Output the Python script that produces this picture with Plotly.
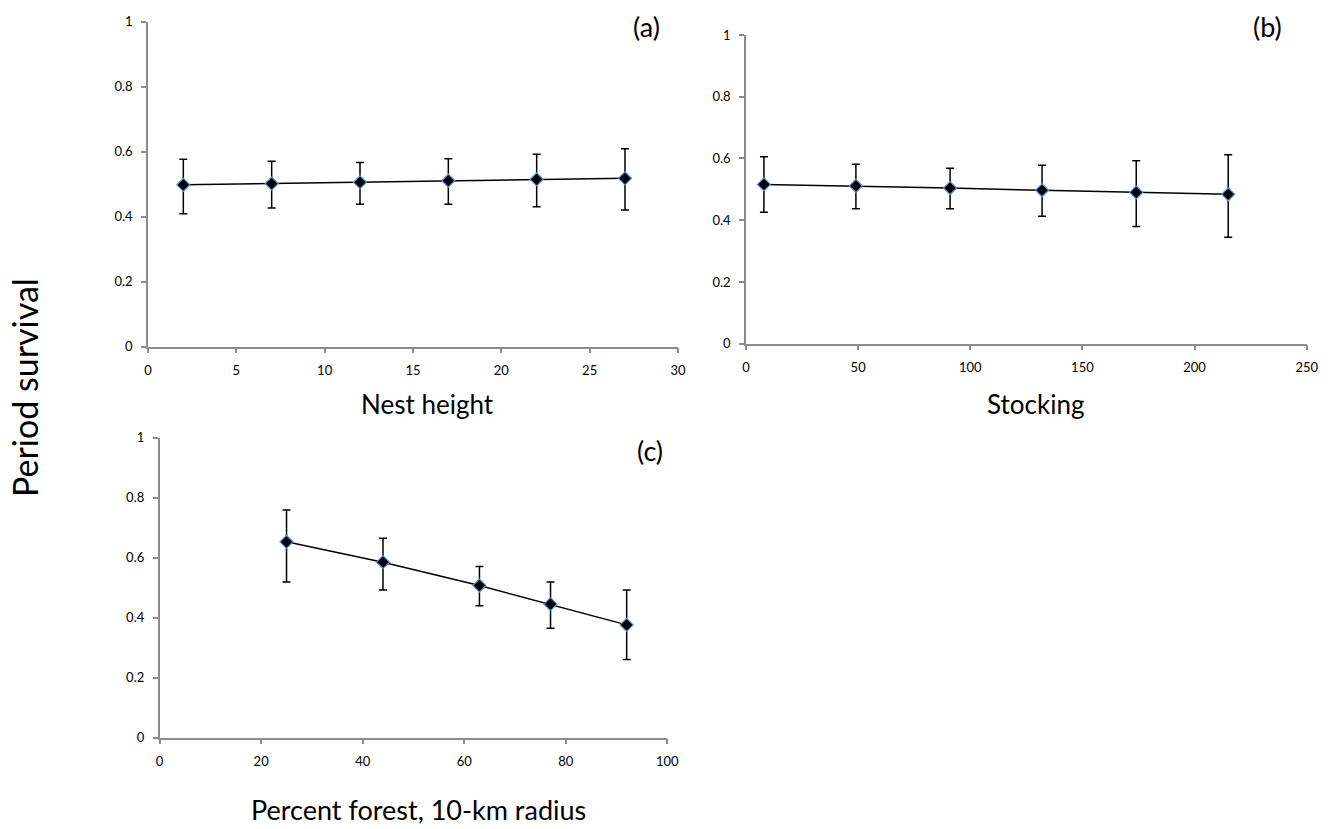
import plotly.graph_objects as go

# Panel (a): Nest height
a_x = [2, 7, 12, 17, 22, 27]
a_y = [0.498, 0.502, 0.506, 0.511, 0.515, 0.518]
a_hi = [0.577, 0.571, 0.567, 0.578, 0.592, 0.609]
a_lo = [0.409, 0.427, 0.438, 0.438, 0.431, 0.421]

# Panel (b): Stocking
b_x = [8, 49, 91, 132, 174, 215]
b_y = [0.516, 0.511, 0.504, 0.497, 0.490, 0.484]
b_hi = [0.606, 0.581, 0.568, 0.578, 0.593, 0.612]
b_lo = [0.426, 0.437, 0.437, 0.413, 0.380, 0.345]

# Panel (c): Percent forest
c_x = [25, 44, 63, 77, 92]
c_y = [0.653, 0.585, 0.507, 0.445, 0.376]
c_hi = [0.759, 0.665, 0.571, 0.519, 0.492]
c_lo = [0.519, 0.492, 0.440, 0.365, 0.261]

y_ticks = [0, 0.2, 0.4, 0.6, 0.8, 1]
y_labels = ["0", "0.2", "0.4", "0.6", "0.8", "1"]

FONT = "Lato"
W, H = 1333, 829
fig = go.Figure()

def add_panel(xs, ys, hi, lo, xa, ya):
    fig.add_trace(go.Scatter(
        x=xs, y=ys, mode="lines+markers",
        line=dict(color="black", width=1.5),
        marker=dict(symbol="diamond", size=10, color="black",
                    line=dict(color="#5b8fd0", width=1.2)),
        error_y=dict(type="data", symmetric=False,
                     array=[h - v for h, v in zip(hi, ys)],
                     arrayminus=[v - l for v, l in zip(ys, lo)],
                     color="black", thickness=1.5, width=4),
        xaxis=xa, yaxis=ya, showlegend=False, hoverinfo="skip"))

add_panel(a_x, a_y, a_hi, a_lo, "x", "y")
add_panel(b_x, b_y, b_hi, b_lo, "x2", "y2")
add_panel(c_x, c_y, c_hi, c_lo, "x3", "y3")

ax_common = dict(showgrid=False, zeroline=False, showline=True, automargin=False,
                 linecolor="#8c8c8c", linewidth=1.5, ticks="outside",
                 tickcolor="#8c8c8c", ticklen=5, tickwidth=1.5,
                 tickfont=dict(family=FONT, size=13, color="black"))
xa_common = dict(ticklabelstandoff=6, **ax_common)
ya_common = dict(ticklabelstandoff=6, range=[0, 1], tickvals=y_ticks, ticktext=y_labels, **ax_common)

def px_x(a, b):
    return [a / W, b / W]

def px_y(top, bottom):
    return [1 - bottom / H, 1 - top / H]

fig.update_layout(
    width=W, height=H,
    margin=dict(l=0, r=0, t=0, b=0),
    paper_bgcolor="white", plot_bgcolor="white",
    hovermode=False,
    xaxis=dict(domain=px_x(148, 678), range=[0, 30], tickvals=[0, 5, 10, 15, 20, 25, 30],
               anchor="y", **xa_common),
    yaxis=dict(domain=px_y(21.7, 346.7), anchor="x", **ya_common),
    xaxis2=dict(domain=px_x(746, 1306.7), range=[0, 250], tickvals=[0, 50, 100, 150, 200, 250],
                anchor="y2", **xa_common),
    yaxis2=dict(domain=px_y(35, 343.7), anchor="x2", **ya_common),
    xaxis3=dict(domain=px_x(159.6, 667.3), range=[0, 100], tickvals=[0, 20, 40, 60, 80, 100],
                anchor="y3", **xa_common),
    yaxis3=dict(domain=px_y(437.7, 737.7), anchor="x3", **ya_common),
)

def ann(text, x, y, size, angle=0):
    fig.add_annotation(text=text, x=x / W, y=1 - y / H, xref="paper", yref="paper",
                       showarrow=False, textangle=angle, xanchor="center", yanchor="middle",
                       font=dict(family=FONT, size=size, color="black"))

ann("Nest height", 427.5, 404, 26)
ann("Stocking", 1035.5, 404, 26)
ann("Percent forest, 10-km radius", 418.5, 809, 27)
ann("Period survival", 25, 388, 34, angle=-90)
ann("(a)", 646, 26, 27)
ann("(b)", 1267, 26, 27)
ann("(c)", 650, 450, 27)

fig.write_html("out.html",
               config={"displayModeBar": False},
               post_script="document.body.style.margin='0';document.body.style.overflow='hidden';")
